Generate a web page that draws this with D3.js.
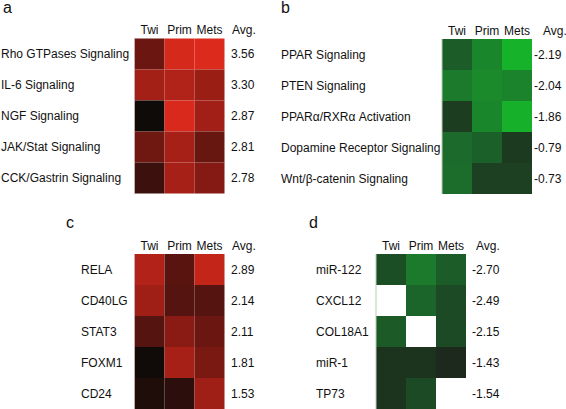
<!DOCTYPE html>
<html><head><meta charset="utf-8">
<script src="https://cdn.jsdelivr.net/npm/d3@7"></script>
<style>
html,body{margin:0;padding:0;background:#fff;}
svg text{font-family:"Liberation Sans",Arial,Helvetica,sans-serif;fill:#111;}
</style></head>
<body>
<svg id="chart" width="566" height="409"></svg>
<script>
// ---- data ----
const columns = ["Twi", "Prim", "Mets"];

const rowsA = ["Rho GTPases Signaling", "IL-6 Signaling", "NGF Signaling", "JAK/Stat Signaling", "CCK/Gastrin Signaling"];
const avgA = ["3.56", "3.30", "2.87", "2.81", "2.78"];
const twiA  = [0.43, 0.71, 0.00, 0.45, 0.21];
const primA = [0.96, 0.78, 0.98, 0.73, 0.73];
const metsA = [1.00, 0.67, 0.70, 0.41, 0.55];

const rowsB = ["PPAR Signaling", "PTEN Signaling", "PPAR\u03b1/RXR\u03b1 Activation", "Dopamine Receptor Signaling", "Wnt/\u03b2-catenin Signaling"];
const avgB = ["-2.19", "-2.04", "-1.86", "-0.79", "-0.73"];
const twiB  = [0.39, 0.59, 0.18, 0.49, 0.50];
const primB = [0.67, 0.70, 0.67, 0.42, 0.20];
const metsB = [0.97, 0.65, 0.95, 0.16, 0.20];

const rowsC = ["RELA", "CD40LG", "STAT3", "FOXM1", "CD24"];
const avgC = ["2.89", "2.14", "2.11", "1.81", "1.53"];
const twiC  = [0.79, 0.69, 0.33, 0.01, 0.08];
const primC = [0.35, 0.33, 0.58, 0.73, 0.14];
const metsC = [0.87, 0.33, 0.43, 0.50, 0.69];

const rowsD = ["miR-122", "CXCL12", "COL18A1", "miR-1", "TP73"];
const avgD = ["-2.70", "-2.49", "-2.15", "-1.43", "-1.54"];
const twiD  = [0.30, null, 0.38, 0.12, 0.12];
const primD = [0.59, 0.45, null, 0.12, 0.27];
const metsD = [0.39, 0.27, 0.27, 0.05, null];

// ---- layout ----
const redScale = d3.scaleLinear().domain([0, 0.5, 1]).range(["#0e0b09", "#7a1812", "#dc2a1c"]);
const greenScale = d3.scaleLinear().domain([0, 0.5, 1]).range(["#1c221a", "#1c6c2c", "#16b82a"]);

const panels = [
  {title: "a", tx: 3, ty: 13, rows: rowsA, avg: avgA, vals: [twiA, primA, metsA], color: redScale,
   gx: 134.5, gy: 38.5, lx: 1, vx: 231, ax: 232, border: "#c9aaa4"},
  {title: "b", tx: 281, ty: 13, rows: rowsB, avg: avgB, vals: [twiB, primB, metsB], color: greenScale,
   gx: 442, gy: 39, lx: 281, vx: 534, ax: 543, border: "#b7cdb3"},
  {title: "c", tx: 66, ty: 228, rows: rowsC, avg: avgC, vals: [twiC, primC, metsC], color: redScale,
   gx: 134.5, gy: 254, lx: 81, vx: 231, ax: 232, border: "#c9aaa4"},
  {title: "d", tx: 309, ty: 228, rows: rowsD, avg: avgD, vals: [twiD, primD, metsD], color: greenScale,
   gx: 376, gy: 254, lx: 316, vx: 472, ax: 476, border: "#b7cdb3"}
];

const cellW = 30, cellH = 31;
const svg = d3.select("#chart");

panels.forEach(p => {
  const g = svg.append("g");
  const x = d3.scaleBand().domain(columns).range([p.gx, p.gx + cellW * columns.length]);
  const y = d3.scaleBand().domain(p.rows).range([p.gy, p.gy + cellH * p.rows.length]);

  g.append("text").attr("x", p.tx).attr("y", p.ty).attr("font-size", 16).text(p.title);

  // column headers
  g.selectAll("text.col").data(columns).join("text").attr("class", "col")
    .attr("x", d => x(d) + x.bandwidth() / 2).attr("y", p.gy - 4.5)
    .attr("text-anchor", "middle").attr("font-size", 12).text(d => d);
  g.append("text").attr("x", p.ax).attr("y", p.gy - 4.5).attr("font-size", 12).text("Avg.");

  // cells
  const cells = [];
  p.rows.forEach((r, i) => columns.forEach((c, j) => {
    const v = p.vals[j][i];
    if (v !== null) cells.push({r, c, v});
  }));
  g.selectAll("rect.cell").data(cells).join("rect").attr("class", "cell")
    .attr("x", d => x(d.c)).attr("y", d => y(d.r))
    .attr("width", x.bandwidth()).attr("height", y.bandwidth())
    .attr("fill", d => p.color(d.v));

  // light outline on left/top edge
  g.append("line").attr("x1", p.gx).attr("x2", p.gx)
    .attr("y1", p.gy).attr("y2", p.gy + cellH * p.rows.length)
    .attr("stroke", p.border).attr("stroke-width", 1);

  // row labels
  g.selectAll("text.row").data(p.rows).join("text").attr("class", "row")
    .attr("x", p.lx).attr("y", d => y(d) + y.bandwidth() / 2 + 4.3)
    .attr("font-size", 12).text(d => d);

  // averages
  g.selectAll("text.avg").data(p.avg).join("text").attr("class", "avg")
    .attr("x", p.vx).attr("y", (d, i) => y(p.rows[i]) + y.bandwidth() / 2 + 4.3)
    .attr("font-size", 12).text(d => d);
});
</script>
</body></html>
